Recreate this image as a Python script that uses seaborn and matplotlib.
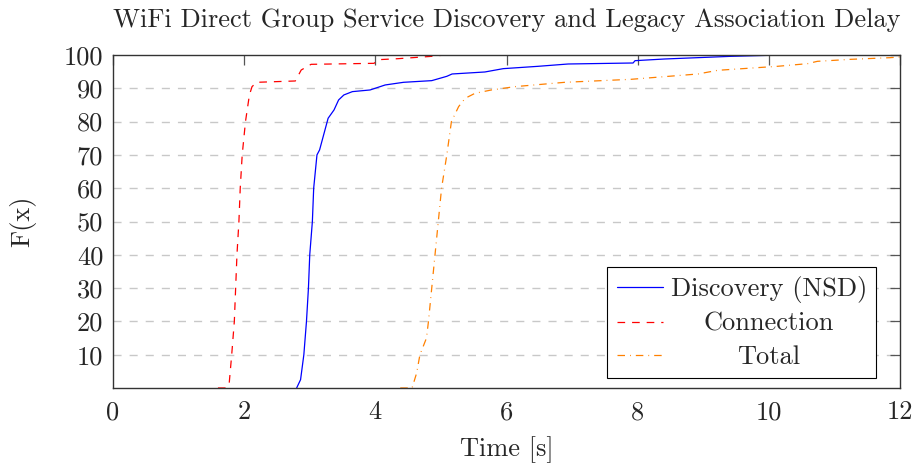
import numpy as np
import pandas as pd
import matplotlib
matplotlib.use("Agg")
import matplotlib.pyplot as plt
import seaborn as sns

# ---- data ----
disc_x = [2.80, 2.86, 2.91, 2.95, 2.98, 3.00, 3.04, 3.06, 3.11, 3.15, 3.28, 3.37, 3.44, 3.52,
          3.65, 3.92, 4.15, 4.43, 4.86, 5.09, 5.17, 5.67, 5.95, 6.48, 6.94, 7.93, 7.96, 8.41,
          9.42, 10.0, 11.0]
disc_y = [0, 2.5, 10, 20, 30, 40, 50, 60, 70, 71.5, 81, 83.5, 86.5, 88,
          89, 89.5, 91, 91.8, 92.3, 93.6, 94.3, 94.9, 95.9, 96.6, 97.3, 97.6, 98.3, 98.8,
          99.6, 99.9, 100]

conn_x = [1.60, 1.72, 1.77, 1.81, 1.85, 1.87, 1.89, 1.92, 1.94, 1.97, 2.02, 2.08, 2.12, 2.19,
          2.78, 2.87, 3.02, 3.98, 4.05, 4.35, 4.86, 5.06]
conn_y = [0, 0, 1, 10, 20, 30, 40, 50, 60, 70, 80, 88, 90.5, 91.8,
          92.2, 95.5, 97.2, 97.5, 98.6, 98.9, 99.6, 100]

tot_x = [4.38, 4.56, 4.63, 4.68, 4.78, 4.81, 4.86, 4.91, 4.96, 5.01, 5.09, 5.16, 5.27, 5.37,
         5.52, 5.77, 6.13, 6.89, 7.90, 8.92, 9.22, 10.13, 10.59, 10.74, 11.25, 11.85, 12.0]
tot_y = [0, 0, 4.5, 10, 15, 20, 30, 40, 50, 60, 70, 80, 84.5, 87,
         88.5, 89.5, 90.5, 91.8, 92.7, 94.3, 95.4, 96.6, 97.4, 98.1, 98.7, 99.2, 99.4]

series_names = ["Discovery (NSD)", "Connection", "Total"]
x_ticks = [0, 2, 4, 6, 8, 10, 12]
y_ticks = [10, 20, 30, 40, 50, 60, 70, 80, 90, 100]

title = "WiFi Direct Group Service Discovery and Legacy Association Delay"
xlabel = "Time [s]"
ylabel = "F(x)"

# ---- style ----
sns.set_style("white")
plt.rcParams["font.family"] = ["cmr10", "DejaVu Serif"]
plt.rcParams["mathtext.fontset"] = "cm"
plt.rcParams["axes.formatter.use_mathtext"] = True
plt.rcParams["lines.scale_dashes"] = False

FS = 19

fig = plt.figure(figsize=(9.18, 4.67), dpi=100)
ax = fig.add_axes([113 / 918, 1 - 388 / 467, (900 - 113) / 918, (388 - 55) / 467])

colors = ["#0000ff", "#ff0000", "#ff8000"]
styles = ["-", (0, (5.5, 5.0)), (0, (5.4, 3.6, 0.6, 3.6))]
data = [(disc_x, disc_y), (conn_x, conn_y), (tot_x, tot_y)]

for name, (xs, ys), c, ls in zip(series_names, data, colors, styles):
    df = pd.DataFrame({"x": xs, "y": ys})
    sns.lineplot(data=df, x="x", y="y", ax=ax, sort=False, estimator=None,
                 color=c, linewidth=0.9, label=name, linestyle=ls)

ax.set_xlim(0, 12)
ax.set_ylim(0, 100)
ax.set_xticks(x_ticks)
ax.set_yticks(y_ticks)
ax.set_xticklabels([str(v) for v in x_ticks])
ax.set_yticklabels([str(v) for v in y_ticks])

# grid only at 10..90
for v in y_ticks[:-1]:
    ax.axhline(v, color="#c8c8c8", linewidth=1.0, linestyle=(0, (5.8, 5.8)), zorder=0)

ax.tick_params(axis="both", direction="in", length=7, width=0.9, color="#555555",
               labelsize=FS, top=True, right=True, pad=7)
ax.tick_params(axis="x", pad=9)
for s in ax.spines.values():
    s.set_color("#333333")
    s.set_linewidth(1.0)

ax.set_title(title, fontsize=FS, pad=20)
ax.set_xlabel(xlabel, fontsize=FS, labelpad=9)
ax.set_ylabel(ylabel, fontsize=FS, labelpad=20)

leg = ax.legend(loc="lower right", bbox_to_anchor=(0.97, 0.03), borderaxespad=0,
                fontsize=FS, handlelength=1.75, handletextpad=0.3, borderpad=0.35,
                labelspacing=0.35, fancybox=False, framealpha=1, edgecolor="black")
leg.get_frame().set_linewidth(0.8)

# center legend labels like pgfplots
fig.canvas.draw()
r = fig.canvas.get_renderer()
texts = leg.get_texts()
ws = [t.get_window_extent(r).width for t in texts]
m = max(ws)
for t, w in zip(texts, ws):
    t.set_position(((m - w) / 2, 0))

fig.savefig("out.png", dpi=100)
